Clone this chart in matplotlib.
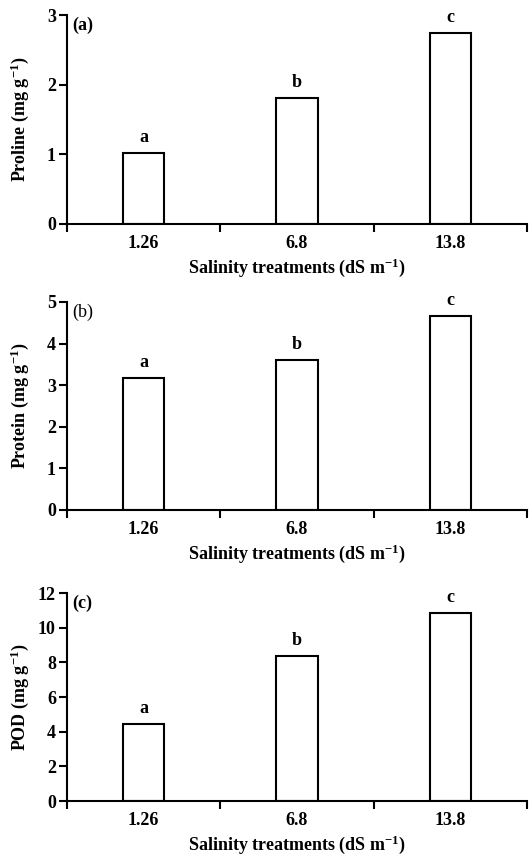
import numpy as np
import matplotlib.pyplot as plt
from matplotlib.ticker import FixedLocator

plt.rcParams['font.family'] = 'Liberation Serif'
plt.rcParams['font.weight'] = 'bold'
plt.rcParams['mathtext.fontset'] = 'custom'
plt.rcParams['mathtext.rm'] = 'Liberation Serif:bold'
plt.rcParams['mathtext.it'] = 'Liberation Serif:bold'
plt.rcParams['mathtext.bf'] = 'Liberation Serif:bold'

# data
treatments = ['1.26', '6.8', '13.8']
proline = [1.02, 1.81, 2.74]
protein = [3.17, 3.61, 4.66]
pod = [4.42, 8.35, 10.85]
letters = ['a', 'b', 'c']

panels = [
    ('(a)', 'Proline', proline, 3, [0, 1, 2, 3], 'bold'),
    ('(b)', 'Protein', protein, 5, [0, 1, 2, 3, 4, 5], 'normal'),
    ('(c)', 'POD', pod, 12, [0, 2, 4, 6, 8, 10, 12], 'bold'),
]

W, H = 529, 858
fig = plt.figure(figsize=(W / 100, H / 100), dpi=100)

# axes boxes in pixels: (top, bottom)
boxes = [(15, 224), (302, 510), (593, 801)]
left_px, right_px = 67, 527

x = np.arange(len(treatments)) + 0.5
lw = 1.5
fs = 13

for (tag, name, vals, ymax, yt, tagw), (top, bot) in zip(panels, boxes):
    ax = fig.add_axes([left_px / W, 1 - bot / H, (right_px - left_px) / W, (bot - top) / H])
    ax.bar(x, vals, width=0.27, color='white', edgecolor='black', linewidth=lw)
    for xi, v, l in zip(x, vals, letters):
        ax.text(xi, v + ymax * 0.035, l, ha='center', va='bottom', fontsize=fs, fontweight='bold')
    ax.set_xlim(0, 3)
    ax.set_ylim(0, ymax)
    ax.set_yticks(yt)
    ax.set_xticks(x)
    ax.set_xticklabels(treatments)
    ax.xaxis.set_minor_locator(FixedLocator([0, 1, 2, 3]))
    ax.tick_params(axis='x', which='major', length=0, pad=8, labelsize=fs)
    ax.tick_params(axis='x', which='minor', length=6, width=lw, direction='out')
    ax.tick_params(axis='y', length=6, width=lw, direction='out', pad=2, labelsize=fs)
    for s in ['top', 'right']:
        ax.spines[s].set_visible(False)
    for s in ['left', 'bottom']:
        ax.spines[s].set_linewidth(lw)
    ax.set_ylabel(name + r' (mg g$^{-1}$)', fontsize=fs, fontweight='bold')
    ax.yaxis.set_label_coords(-0.102, 0.5)
    ax.yaxis.label.set_va('center')
    ax.set_xlabel(r'Salinity treatments (dS m$^{-1}$)', fontsize=fs, fontweight='bold', labelpad=3)
    ax.text(0.012, 0.99, tag, transform=ax.transAxes, ha='left', va='top', fontsize=fs, fontweight=tagw)

fig.savefig('out.png', dpi=100)
